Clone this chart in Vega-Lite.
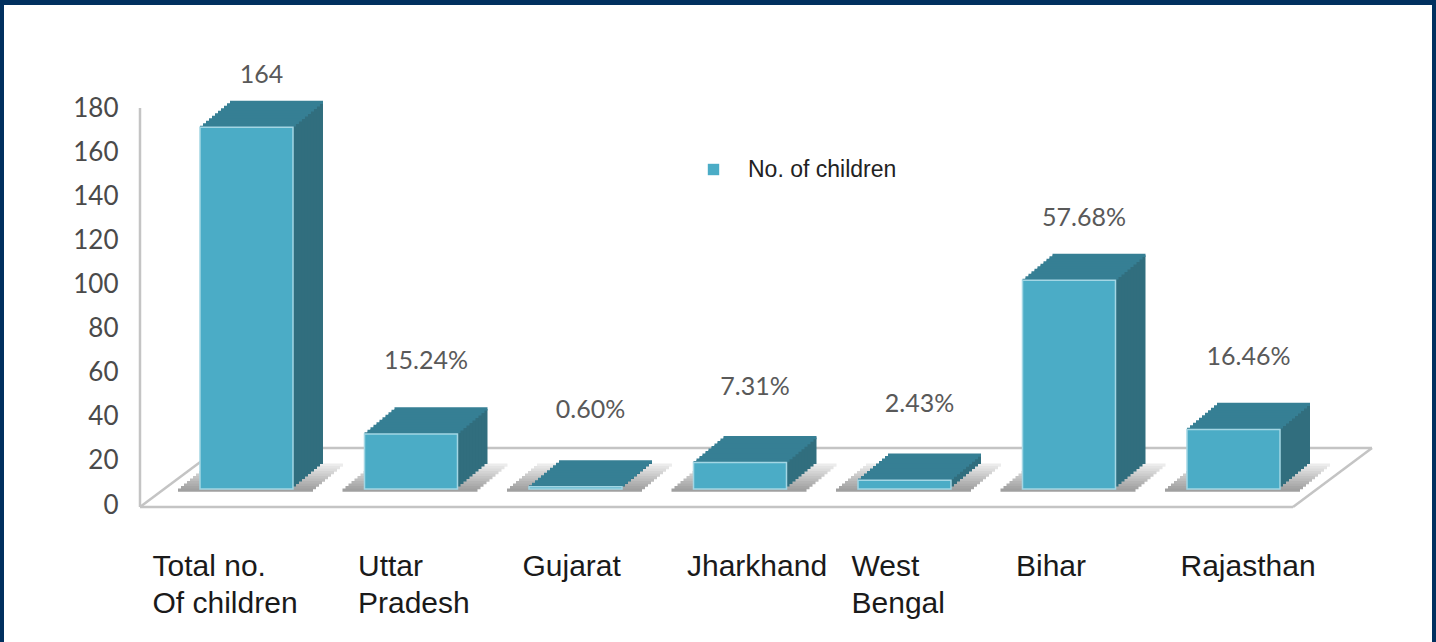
{
  "$schema": "https://vega.github.io/schema/vega-lite/v6.json",
  "width": 1428,
  "height": 637,
  "autosize": "none",
  "padding": {"left": 4, "top": 5, "right": 4, "bottom": 0},
  "background": "#01305f",
  "config": {
    "view": {"fill": "white", "stroke": null},
    "axis": {"domain": false, "ticks": false, "grid": false, "title": null}
  },
  "data": {
    "values": [
      {"region": "Total no. Of children", "value": 164, "label": "164"},
      {"region": "Uttar Pradesh", "value": 25, "label": "15.24%"},
      {"region": "Gujarat", "value": 1, "label": "0.60%"},
      {"region": "Jharkhand", "value": 12, "label": "7.31%"},
      {"region": "West Bengal", "value": 4, "label": "2.43%"},
      {"region": "Bihar", "value": 94.6, "label": "57.68%"},
      {"region": "Rajasthan", "value": 27, "label": "16.46%"}
    ]
  },
  "encoding": {
    "x": {
      "field": "region",
      "type": "nominal",
      "sort": null,
      "scale": {
        "domain": ["Total no. Of children", "Uttar Pradesh", "Gujarat", "Jharkhand", "West Bengal", "Bihar", "Rajasthan"],
        "range": [196, 1276],
        "paddingInner": 0.4347,
        "paddingOuter": 0
      },
      "axis": {
        "offset": -91,
        "labelPadding": 0,
        "labelAngle": 0,
        "labelAlign": "left",
        "labelBaseline": "top",
        "labelOffset": {"condition": {"test": "datum.value == 'Total no. Of children'", "value": -94}, "value": -53},
        "labelFont": "Liberation Sans",
        "labelFontSize": 30,
        "labelLineHeight": 37,
        "labelColor": "#1a1a1a",
        "labelOverlap": false,
        "labelLimit": 0,
        "labelExpr": "datum.label == 'Total no. Of children' ? ['Total no.', 'Of children'] : split(datum.label, ' ')"
      }
    }
  },
  "layer": [
    {
      "encoding": {
        "y": {
          "field": "value",
          "type": "quantitative",
          "scale": {"domain": [-62.1, 226.7], "nice": false, "zero": false},
          "axis": {
            "values": [0, 20, 40, 60, 80, 100, 120, 140, 160, 180],
            "offset": -118,
            "labelPadding": 4,
            "labelFont": "Lato",
            "labelFontSize": 26,
            "labelColor": "#4a4a4a"
          }
        }
      },
      "layer": [
        {
          "transform": [{"filter": "datum.region == 'Total no. Of children'"}],
          "mark": {"type": "rule", "color": "#c4c4c4", "strokeWidth": 2.5, "xOffset": -27.5, "x2Offset": 138.5, "yOffset": -57},
          "encoding": {"x2": {"datum": "Rajasthan", "type": "nominal"}, "y": {"datum": 0, "type": "quantitative"}}
        },
        {
          "transform": [{"filter": "datum.region == 'Total no. Of children'"}],
          "mark": {"type": "rule", "color": "#c4c4c4", "strokeWidth": 2.5, "xOffset": -106.5, "x2Offset": -27.5, "yOffset": 2, "y2Offset": -57},
          "encoding": {"x2": {"field": "region"}, "y": {"datum": 0, "type": "quantitative"}, "y2": {"datum": 0}}
        },
        {
          "transform": [{"filter": "datum.region == 'Rajasthan'"}],
          "mark": {"type": "rule", "color": "#c4c4c4", "strokeWidth": 2.5, "xOffset": 59.5, "x2Offset": 138.5, "yOffset": 2, "y2Offset": -57},
          "encoding": {"x2": {"field": "region"}, "y": {"datum": 0, "type": "quantitative"}, "y2": {"datum": 0}}
        },
        {
          "transform": [{"filter": "datum.region == 'Total no. Of children'"}],
          "mark": {"type": "rule", "color": "#c4c4c4", "strokeWidth": 2.5, "xOffset": -106.5, "x2Offset": 59.5, "yOffset": 2},
          "encoding": {"x2": {"datum": "Rajasthan", "type": "nominal"}, "y": {"datum": 0, "type": "quantitative"}}
        },
        {
          "transform": [{"filter": "datum.region == 'Total no. Of children'"}],
          "mark": {"type": "rule", "color": "#c4c4c4", "strokeWidth": 2.5, "xOffset": -106.5, "yOffset": 2},
          "encoding": {"y": {"datum": 0, "type": "quantitative"}, "y2": {"datum": 180}}
        },
        {"mark": {"type": "tick", "opacity": 1, "color": "#ececec", "size": 135, "thickness": 3.2, "xOffset": 29, "yOffset": -40}, "encoding": {"y": {"datum": 0, "type": "quantitative"}}},
        {"mark": {"type": "tick", "opacity": 1, "color": "#e4e4e4", "size": 135, "thickness": 3.2, "xOffset": 26, "yOffset": -37.5}, "encoding": {"y": {"datum": 0, "type": "quantitative"}}},
        {"mark": {"type": "tick", "opacity": 1, "color": "#dcdcdc", "size": 135, "thickness": 3.2, "xOffset": 23, "yOffset": -35}, "encoding": {"y": {"datum": 0, "type": "quantitative"}}},
        {"mark": {"type": "tick", "opacity": 1, "color": "#d4d4d4", "size": 135, "thickness": 3.2, "xOffset": 20, "yOffset": -32.5}, "encoding": {"y": {"datum": 0, "type": "quantitative"}}},
        {"mark": {"type": "tick", "opacity": 1, "color": "#cccccc", "size": 135, "thickness": 3.2, "xOffset": 17, "yOffset": -30}, "encoding": {"y": {"datum": 0, "type": "quantitative"}}},
        {"mark": {"type": "tick", "opacity": 1, "color": "#c4c4c4", "size": 135, "thickness": 3.2, "xOffset": 14, "yOffset": -27.5}, "encoding": {"y": {"datum": 0, "type": "quantitative"}}},
        {"mark": {"type": "tick", "opacity": 1, "color": "#bcbcbc", "size": 135, "thickness": 3.2, "xOffset": 11, "yOffset": -25}, "encoding": {"y": {"datum": 0, "type": "quantitative"}}},
        {"mark": {"type": "tick", "opacity": 1, "color": "#b4b4b4", "size": 135, "thickness": 3.2, "xOffset": 8, "yOffset": -22.5}, "encoding": {"y": {"datum": 0, "type": "quantitative"}}},
        {"mark": {"type": "tick", "opacity": 1, "color": "#adadad", "size": 135, "thickness": 3.2, "xOffset": 5, "yOffset": -20}, "encoding": {"y": {"datum": 0, "type": "quantitative"}}},
        {"mark": {"type": "tick", "opacity": 1, "color": "#a6a6a6", "size": 135, "thickness": 3.2, "xOffset": 2, "yOffset": -17.5}, "encoding": {"y": {"datum": 0, "type": "quantitative"}}},
        {"mark": {"type": "tick", "opacity": 1, "color": "#a0a0a0", "size": 135, "thickness": 3.2, "xOffset": -1, "yOffset": -15}, "encoding": {"y": {"datum": 0, "type": "quantitative"}}},
        {"mark": {"type": "bar", "opacity": 1, "color": "#316e7e", "xOffset": 30, "yOffset": -41, "y2Offset": -41}, "encoding": {"y2": {"datum": 0}}},
        {"mark": {"type": "bar", "opacity": 1, "color": "#316e7e", "xOffset": 27, "yOffset": -38.5, "y2Offset": -38.5}, "encoding": {"y2": {"datum": 0}}},
        {"mark": {"type": "bar", "opacity": 1, "color": "#316e7e", "xOffset": 24, "yOffset": -36, "y2Offset": -36}, "encoding": {"y2": {"datum": 0}}},
        {"mark": {"type": "bar", "opacity": 1, "color": "#316e7e", "xOffset": 21, "yOffset": -33.5, "y2Offset": -33.5}, "encoding": {"y2": {"datum": 0}}},
        {"mark": {"type": "bar", "opacity": 1, "color": "#316e7e", "xOffset": 18, "yOffset": -31, "y2Offset": -31}, "encoding": {"y2": {"datum": 0}}},
        {"mark": {"type": "bar", "opacity": 1, "color": "#316e7e", "xOffset": 15, "yOffset": -28.5, "y2Offset": -28.5}, "encoding": {"y2": {"datum": 0}}},
        {"mark": {"type": "bar", "opacity": 1, "color": "#316e7e", "xOffset": 12, "yOffset": -26, "y2Offset": -26}, "encoding": {"y2": {"datum": 0}}},
        {"mark": {"type": "bar", "opacity": 1, "color": "#316e7e", "xOffset": 9, "yOffset": -23.5, "y2Offset": -23.5}, "encoding": {"y2": {"datum": 0}}},
        {"mark": {"type": "bar", "opacity": 1, "color": "#316e7e", "xOffset": 6, "yOffset": -21, "y2Offset": -21}, "encoding": {"y2": {"datum": 0}}},
        {"mark": {"type": "bar", "opacity": 1, "color": "#316e7e", "xOffset": 3, "yOffset": -18.5, "y2Offset": -18.5}, "encoding": {"y2": {"datum": 0}}},
        {"mark": {"type": "tick", "opacity": 1, "color": "#367f94", "size": 93, "thickness": 3.2, "xOffset": 30, "yOffset": -41}},
        {"mark": {"type": "tick", "opacity": 1, "color": "#367f94", "size": 93, "thickness": 3.2, "xOffset": 27, "yOffset": -38.5}},
        {"mark": {"type": "tick", "opacity": 1, "color": "#367f94", "size": 93, "thickness": 3.2, "xOffset": 24, "yOffset": -36}},
        {"mark": {"type": "tick", "opacity": 1, "color": "#367f94", "size": 93, "thickness": 3.2, "xOffset": 21, "yOffset": -33.5}},
        {"mark": {"type": "tick", "opacity": 1, "color": "#367f94", "size": 93, "thickness": 3.2, "xOffset": 18, "yOffset": -31}},
        {"mark": {"type": "tick", "opacity": 1, "color": "#367f94", "size": 93, "thickness": 3.2, "xOffset": 15, "yOffset": -28.5}},
        {"mark": {"type": "tick", "opacity": 1, "color": "#367f94", "size": 93, "thickness": 3.2, "xOffset": 12, "yOffset": -26}},
        {"mark": {"type": "tick", "opacity": 1, "color": "#367f94", "size": 93, "thickness": 3.2, "xOffset": 9, "yOffset": -23.5}},
        {"mark": {"type": "tick", "opacity": 1, "color": "#367f94", "size": 93, "thickness": 3.2, "xOffset": 6, "yOffset": -21}},
        {"mark": {"type": "tick", "opacity": 1, "color": "#367f94", "size": 93, "thickness": 3.2, "xOffset": 3, "yOffset": -18.5}},
        {"mark": {"type": "tick", "opacity": 1, "color": "#367f94", "size": 93, "thickness": 3.2, "xOffset": 0, "yOffset": -16}},
        {
          "mark": {"type": "bar", "opacity": 1, "yOffset": -16, "y2Offset": -16, "stroke": "#a3d6e4", "strokeWidth": 1.5},
          "encoding": {
            "y2": {"datum": 0},
            "color": {
              "datum": "No. of children",
              "scale": {"range": ["#4bacc6"]},
              "legend": {
                "orient": "none",
                "legendX": 698,
                "legendY": 153,
                "title": null,
                "symbolType": "square",
                "symbolSize": 130,
                "symbolStrokeWidth": 0,
                "labelFont": "Liberation Sans",
                "labelFontSize": 23,
                "labelColor": "#222222",
                "labelOffset": 23
              }
            }
          }
        }
      ]
    },
    {
      "mark": {"type": "text", "dx": 15, "baseline": "middle", "font": "Lato", "fontSize": 25, "color": "#595959"},
      "encoding": {
        "y": {
          "field": "value",
          "type": "quantitative",
          "scale": {"domain": [-111.9, 198.1], "nice": false, "zero": false},
          "axis": null
        },
        "text": {"field": "label"}
      }
    }
  ],
  "resolve": {"scale": {"y": "independent"}}
}
